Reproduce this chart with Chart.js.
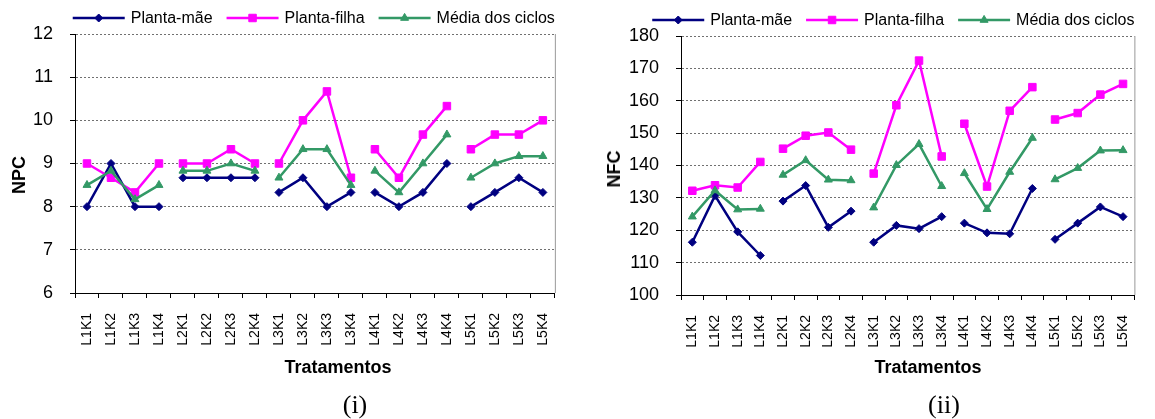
<!DOCTYPE html>
<html lang="pt">
<head>
<meta charset="UTF-8">
<title>NPC e NFC por tratamento</title>
<script src="https://cdn.jsdelivr.net/npm/chart.js"></script>
<style>
    body {
        margin: 0;
        background: #fff;
        font-family: 'Liberation Sans', Arial, sans-serif;
    }
    .wrap {
        position: relative;
        width: 1155px;
        height: 419px;
        overflow: hidden;
    }
    canvas {
        position: absolute;
        top: 0;
    }
    .lbl {
        position: absolute;
        white-space: nowrap;
        line-height: 1;
        transform: translate(-50%, -50%);
        color: #000;
    }
    .axis-title {
        font-weight: bold;
        font-size: 18px;
    }
    .ytitle {
        transform: translate(-50%, -50%) rotate(-90deg);
    }
    .panel {
        font-family: 'Liberation Serif', 'Times New Roman', serif;
        font-size: 26px;
    }
</style>
</head>
<body>
<div class="wrap">
    <canvas id="chartNpc" width="575" height="419" style="left:0"></canvas>
    <canvas id="chartNfc" width="580" height="419" style="left:575px"></canvas>

    <div class="lbl axis-title ytitle" style="left:19px; top:175px">NPC</div>
    <div class="lbl axis-title" style="left:338px; top:367px">Tratamentos</div>
    <div class="lbl panel" style="left:355px; top:405px">(i)</div>

    <div class="lbl axis-title ytitle" style="left:614px; top:169px">NFC</div>
    <div class="lbl axis-title" style="left:928px; top:367px">Tratamentos</div>
    <div class="lbl panel" style="left:944px; top:405px">(ii)</div>
</div>

<script>
// categories (treatments)
const categories = ['L1K1', 'L1K2', 'L1K3', 'L1K4', 'L2K1', 'L2K2', 'L2K3', 'L2K4',
    'L3K1', 'L3K2', 'L3K3', 'L3K4', 'L4K1', 'L4K2', 'L4K3', 'L4K4',
    'L5K1', 'L5K2', 'L5K3', 'L5K4'];

const seriesNames = ['Planta-mãe', 'Planta-filha', 'Média dos ciclos'];

// (i) NPC
const npcMae = [8, 9, 8, 8, 8.67, 8.67, 8.67, 8.67, 8.33, 8.67, 8, 8.33, 8.33, 8, 8.33, 9, 8, 8.33, 8.67, 8.33];
const npcFilha = [9, 8.67, 8.33, 9, 9, 9, 9.33, 9, 9, 10, 10.67, 8.67, 9.33, 8.67, 9.67, 10.33, 9.33, 9.67, 9.67, 10];
const npcMedia = [8.5, 8.83, 8.17, 8.5, 8.83, 8.83, 9, 8.83, 8.67, 9.33, 9.33, 8.5, 8.83, 8.33, 9, 9.67, 8.67, 9, 9.17, 9.17];

// (ii) NFC
const nfcMae = [116.3, 130.7, 119.5, 112.2, 129, 133.8, 120.9, 125.9, 116.3, 121.5, 120.5, 124.2, 122.2, 119.2, 118.9, 132.9, 117.2, 122.2, 127.2, 124.2];
const nfcFilha = [132.2, 133.9, 133.2, 141.1, 145.2, 149.2, 150.2, 144.9, 137.5, 158.6, 172.4, 142.8, 152.9, 133.5, 156.9, 164.2, 154.2, 156.2, 161.9, 165.2];
const nfcMedia = [124.2, 132.3, 126.4, 126.6, 137.1, 141.6, 135.6, 135.4, 127, 140.1, 146.6, 133.6, 137.6, 126.5, 138, 148.5, 135.7, 139.2, 144.6, 144.7];

Chart.defaults.font.family = "'Liberation Sans', Arial, sans-serif";
Chart.defaults.color = '#000';

// series look (Excel-like)
const styles = [
    { color: '#000080', pointStyle: 'rectRot', radius: 4, order: 2 },
    { color: '#FF00FF', pointStyle: 'rect', radius: 5.3, order: 1 },
    { color: '#339966', pointStyle: 'triangle', radius: 4.6, order: 0 }
];

function makeDataset(i, values) {
    const s = styles[i];
    return {
        label: seriesNames[i],
        data: values,
        borderColor: s.color,
        backgroundColor: s.color,
        pointBackgroundColor: s.color,
        pointBorderColor: s.color,
        pointBorderWidth: 1,
        borderWidth: 2.5,
        pointStyle: s.pointStyle,
        pointRadius: s.radius,
        pointHoverRadius: s.radius,
        tension: 0,
        order: s.order,
        // lines are broken between the L groups
        segment: {
            borderColor: ctx => (ctx.p0DataIndex % 4 === 3 ? 'transparent' : s.color)
        }
    };
}

// legend with line + marker, right-aligned over the plot
const lineLegend = {
    id: 'lineLegend',
    afterDraw(chart, args, opts) {
        const ctx = chart.ctx;
        const lineLen = 52, gapText = 6, gapItem = 14;
        ctx.save();
        ctx.font = '16px "Liberation Sans", Arial, sans-serif';
        const items = chart.data.datasets.map(ds => ({ ds, w: ctx.measureText(ds.label).width }));
        const total = items.reduce((s, it) => s + lineLen + gapText + it.w, 0) + gapItem * (items.length - 1);
        let x = chart.chartArea.right - total;
        const y = opts.y;
        items.forEach(it => {
            const ds = it.ds;
            ctx.strokeStyle = ds.borderColor;
            ctx.lineWidth = ds.borderWidth;
            ctx.beginPath();
            ctx.moveTo(x, y);
            ctx.lineTo(x + lineLen, y);
            ctx.stroke();
            ctx.fillStyle = ds.borderColor;
            ctx.lineWidth = 1;
            Chart.helpers.drawPoint(ctx, { pointStyle: ds.pointStyle, radius: ds.pointRadius, borderWidth: 1, rotation: 0 }, x + lineLen / 2, y);
            ctx.fillStyle = '#000';
            ctx.textBaseline = 'middle';
            ctx.textAlign = 'left';
            ctx.fillText(ds.label, x + lineLen + gapText, y + 1);
            x += lineLen + gapText + it.w + gapItem;
        });
        ctx.restore();
    }
};

// thin grey frame line on the right of the plot
const rightFrame = {
    id: 'rightFrame',
    beforeDatasetsDraw(chart) {
        const { ctx, chartArea } = chart;
        ctx.save();
        ctx.strokeStyle = '#999';
        ctx.lineWidth = 1;
        ctx.beginPath();
        ctx.moveTo(chartArea.right + 0.5, chartArea.top);
        ctx.lineTo(chartArea.right + 0.5, chartArea.bottom);
        ctx.stroke();
        ctx.restore();
    }
};

function makeChart(id, values, yMin, yMax, yStep, box) {
    return new Chart(document.getElementById(id), {
        type: 'line',
        data: {
            labels: categories,
            datasets: values.map((v, i) => makeDataset(i, v))
        },
        options: {
            responsive: false,
            animation: false,
            layout: {
                padding: { top: box.top, right: box.right, left: 0, bottom: 0 }
            },
            plugins: {
                legend: { display: false },
                tooltip: { enabled: false },
                lineLegend: { y: box.legendY }
            },
            scales: {
                x: {
                    offset: true,
                    grid: {
                        offset: true,
                        drawOnChartArea: false,
                        drawTicks: true,
                        tickLength: 5,
                        color: '#000'
                    },
                    border: { display: true, color: '#000', width: 1 },
                    ticks: {
                        autoSkip: false,
                        maxRotation: 90,
                        minRotation: 90,
                        padding: 15,
                        font: { size: 14 }
                    },
                    afterFit: scale => { scale.height = box.xHeight; }
                },
                y: {
                    min: yMin,
                    max: yMax,
                    grid: {
                        color: '#707070',
                        tickColor: '#000',
                        tickLength: 5,
                        tickBorderDash: []
                    },
                    border: { display: true, color: '#000', width: 1, dash: [2, 2] },
                    ticks: {
                        stepSize: yStep,
                        padding: 17,
                        font: { size: 18 }
                    },
                    afterFit: scale => { scale.width = box.yWidth; }
                }
            }
        },
        plugins: [lineLegend, rightFrame]
    });
}

makeChart('chartNpc', [npcMae, npcFilha, npcMedia], 6, 12, 1,
    { top: 34, right: 13, xHeight: 126, yWidth: 75, legendY: 18 });

makeChart('chartNfc', [nfcMae, nfcFilha, nfcMedia], 100, 180, 10,
    { top: 36, right: 5, xHeight: 124, yWidth: 106, legendY: 20 });
</script>
</body>
</html>
